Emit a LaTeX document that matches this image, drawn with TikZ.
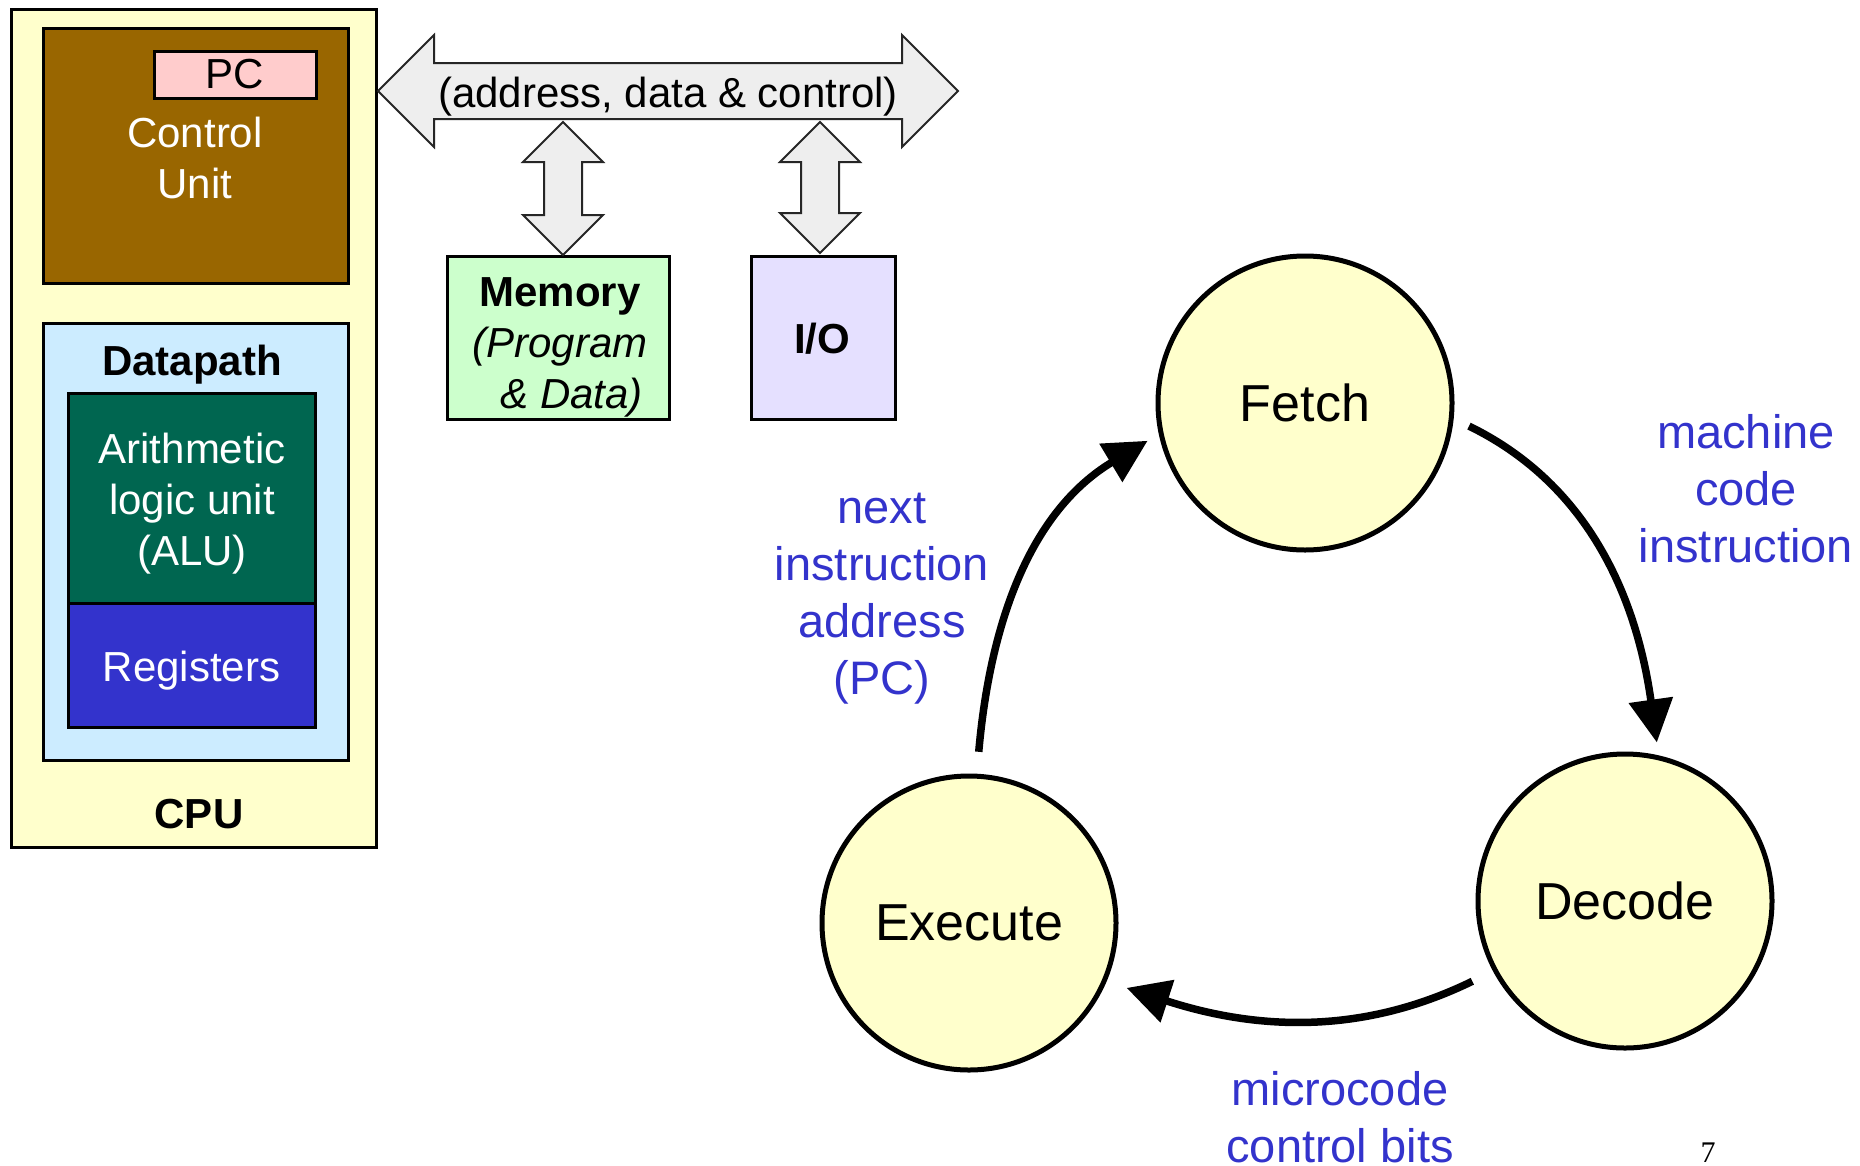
\documentclass[tikz,border=0pt]{standalone}
\usepackage{fontspec}
\setmainfont{Liberation Sans}
\newfontfamily\pgnumfont{Liberation Serif}
\usetikzlibrary{arrows.meta}
\definecolor{cpuy}{HTML}{FFFFCC}
\definecolor{cubrown}{HTML}{996600}
\definecolor{pcpink}{HTML}{FFCCCC}
\definecolor{dpblue}{HTML}{CCECFF}
\definecolor{alugreen}{HTML}{006650}
\definecolor{regblue}{HTML}{3333CC}
\definecolor{memgreen}{HTML}{CCFFCC}
\definecolor{iolav}{HTML}{E5E0FF}
\definecolor{busgray}{HTML}{EEEEEE}
\definecolor{lblblue}{HTML}{3333CC}
\begin{document}
\begin{tikzpicture}[x=1pt,y=1pt,
  box/.style={draw=black, line width=3pt, inner sep=0pt, align=center},
  txt/.style={font=\fontsize{42}{51}\selectfont, align=center, inner sep=0pt},
  btxt/.style={font=\bfseries\fontsize{42}{51.5}\selectfont, align=center, inner sep=0pt},
  bus/.style={fill=busgray, draw=black!85, line width=2pt, line join=miter},
  stage/.style={circle, draw=black, line width=5pt, fill=cpuy, minimum size=294pt, inner sep=0pt, font=\fontsize{52}{60}\selectfont},
  lbl/.style={text=lblblue, font=\fontsize{47}{57}\selectfont, align=center, inner sep=0pt},
  cyc/.style={line width=7.5pt, -{Triangle[length=43pt,width=43pt]}}
]
\useasboundingbox (0,0) rectangle (1860,-1165);
\fill[white] (0,0) rectangle (1860,-1165);

% CPU
\node[box, fill=cpuy, minimum width=365pt, minimum height=838pt] (cpu) at (193.5,-428) {};
\node[box, fill=cubrown, minimum width=305pt, minimum height=255pt] (cu) at (195.5,-155.5) {};
\node[txt, text=white] (cutxt) at (195,-158) {Control\\Unit};
\node[box, fill=pcpink, minimum width=162pt, minimum height=47pt, font=\fontsize{42}{51}\selectfont] (pc) at (235,-74.5) {PC};
\node[box, fill=dpblue, minimum width=305pt, minimum height=437pt] (dp) at (195.5,-541.5) {};
\node[btxt] (dptxt) at (192,-365) {Datapath};
\node[box, fill=alugreen, minimum width=247pt, minimum height=210pt] (alu) at (191.5,-498) {};
\node[txt, text=white] (alutxt) at (192,-504) {Arithmetic\\logic unit\\(ALU)};
\node[box, fill=regblue, minimum width=247pt, minimum height=124pt] (reg) at (191.5,-665) {};
\node[txt, text=white] (regtxt) at (191.5,-671) {Registers};
\node[btxt] (cputxt) at (199,-814) {CPU};

% Bus
\draw[bus] (378,-91) -- (434,-35) -- (434,-63) -- (902,-63) -- (902,-35) -- (958,-91)
  -- (902,-147) -- (902,-119) -- (434,-119) -- (434,-147) -- cycle;
\node[txt] (bustxt) at (668,-97) {(address, data \& control)};

% Memory and I/O
\node[box, fill=memgreen, minimum width=222pt, minimum height=163pt] (mem) at (558,-337.5) {};
\node[txt] (memtxt) at (560,-347) {\textbf{Memory}\\\textit{(Program}\\\textit{\ \ \& Data)}};
\node[box, fill=iolav, minimum width=144pt, minimum height=163pt] (io) at (823,-337.5) {};
\node[btxt] (iotxt) at (822,-339) {I/O};

% vertical double arrows
\draw[bus] (563,-122) -- (603,-162) -- (582,-162) -- (582,-215) -- (603,-215) -- (563,-255)
  -- (523,-215) -- (544,-215) -- (544,-162) -- (523,-162) -- cycle;
\draw[bus] (820,-122) -- (860,-162) -- (839,-162) -- (839,-213) -- (860,-213) -- (820,-253)
  -- (780,-213) -- (801,-213) -- (801,-162) -- (780,-162) -- cycle;

% Cycle
\node[stage] (fetch) at (1305,-403) {Fetch};
\node[stage] (decode) at (1625,-901) {Decode};
\node[stage] (execute) at (969,-923) {Execute};

\draw[cyc, shorten <=17pt, shorten >=13pt] (fetch.-6) to[out=-26,in=98] (decode.77);
\draw[cyc, shorten <=23pt, shorten >=21pt] (decode.-152) to[out=-154,in=-18] (execute.-23.5);
\draw[cyc, shorten <=22pt, shorten >=13pt] (execute.87) to[out=85,in=-149] (fetch.-168);

\node[lbl] (lnext) at (882,-599) {next\\instruction\\address\\(PC)};
\node[lbl] (lmach) at (1746,-489) {machine\\code\\instruction};
\node[lbl] (lmicro) at (1340,-1117) {microcode\\control bits};

\node[font=\pgnumfont\fontsize{30}{30}\selectfont, anchor=base, inner sep=0pt] (pgnum) at (1708,-1162) {7};
\end{tikzpicture}
\end{document}
